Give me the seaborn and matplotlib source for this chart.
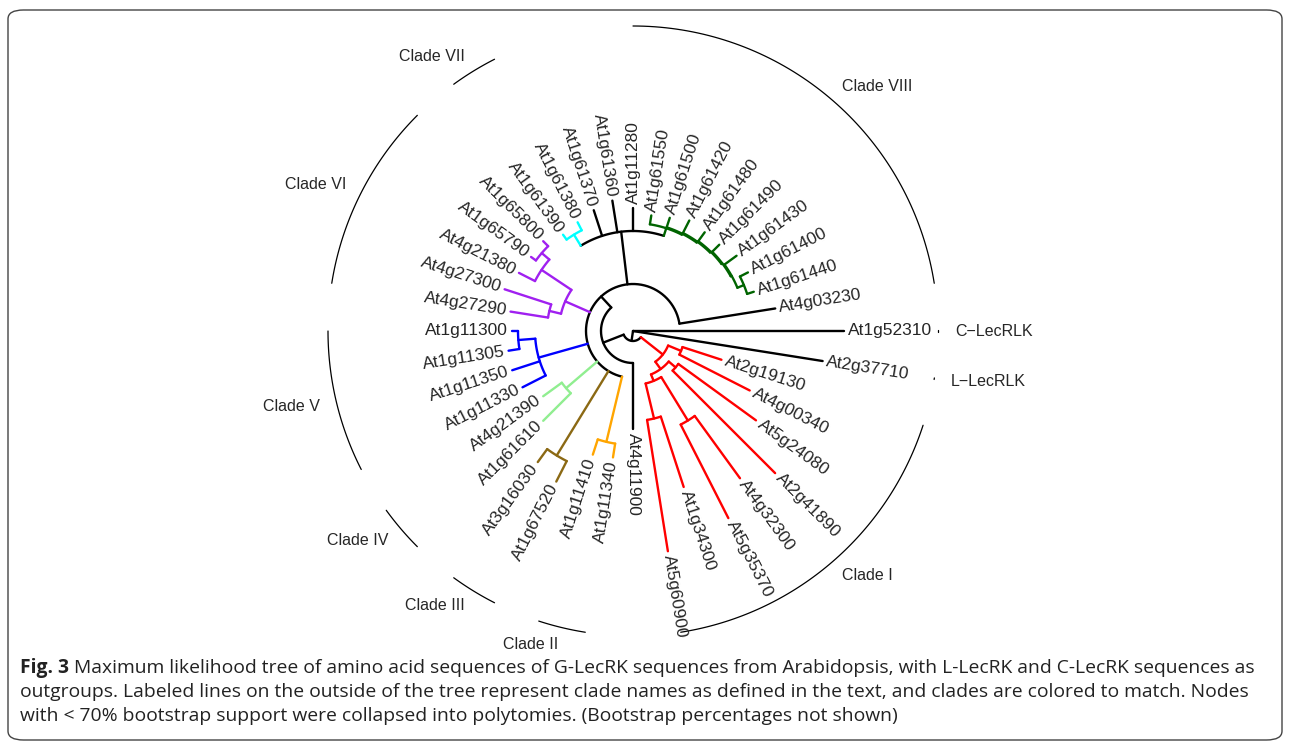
import numpy as np
import pandas as pd
import matplotlib
matplotlib.use('Agg')
import matplotlib.pyplot as plt
import seaborn as sns
from matplotlib.patches import FancyBboxPatch

sns.set_style('white')
plt.rcParams['font.family'] = ['Liberation Sans', 'DejaVu Sans']

# Arbol (Newick) con longitudes de rama
tree_newick = ("(At1g52310:2.11,At2g37710:1.92,"
    "(((At2g19130:0.41,At4g00340:0.79)R2:0.14,"
    "((At5g24080:0.96,At2g41890:1.45)R4:0.09,"
    "((At4g32300:0.77,At5g35370:1.05)R7:0.51,(At1g34300:0.74,At5g60900:1.33)R6:0.36)R5:0.07)Rx:0.09)R1:0.28,"
    "(At4g11900:0.66,"
    "((At1g11340:0.14,At1g11410:0.16)OR:0.67,"
    "(At1g67520:0.23,At3g16030:0.16)OL:0.99,"
    "(At1g61610:0.39,At4g21390:0.23)LG:0.41,"
    "(At1g11330:0.26,At1g11350:0.29,(At1g11305:0.11,At1g11300:0.06)B2:0.17)B1:0.51,"
    "((At4g27290:0.38,At4g27300:0.49)P3:0.12,(At4g21380:0.18,(At1g65790:0.06,At1g65800:0.07)P4:0.10)P2:0.36)P1:0.27,"
    "((At1g61390:0.06,At1g61380:0.09)CY:0.13,At1g61370:0.27,At1g61360:0.32,At1g11280:0.23,"
    "(At1g61550:0.09,(At1g61500:0.10,(At1g61420:0.14,(At1g61480:0.11,(At1g61490:0.10,"
    "(At1g61430:0.15,(At1g61400:0.09,At1g61440:0.07)G3:0.07)G2:0.01)Gd:0.01)Gc:0.01)Gb:0.01)Ga:0.01)G:0.08)D:0.53,"
    "At4g03230:0.97)C:0.15)B:0.22)A:0.10)root;")

# Colores de cada clado (nodo raiz del clado)
clade_nodes = ['R1', 'OR', 'OL', 'LG', 'B1', 'P1', 'CY', 'G']
clade_cols = ['#FF0000', '#FFA500', '#8B6914', '#90EE90', '#0000FF', '#A020F0', '#00FFFF', '#006400']

# Etiquetas de clados: nombre, primera y ultima hoja
clade_names = ['C\u2212LecRLK', 'L\u2212LecRLK', 'Clade I', 'Clade II', 'Clade III',
               'Clade IV', 'Clade V', 'Clade VI', 'Clade VII', 'Clade VIII']
clade_first = ['At1g52310', 'At2g37710', 'At2g19130', 'At1g11340', 'At1g67520',
               'At1g61610', 'At1g11330', 'At4g27290', 'At1g61390', 'At1g11280']
clade_last = ['At1g52310', 'At2g37710', 'At5g60900', 'At1g11410', 'At3g16030',
              'At4g21390', 'At1g11300', 'At1g65800', 'At1g61380', 'At4g03230']

caption1 = ("Maximum likelihood tree of amino acid sequences of G-LecRK sequences from "
            "Arabidopsis, with L-LecRK and C-LecRK sequences as")
caption2 = ("outgroups. Labeled lines on the outside of the tree represent clade names as "
            "defined in the text, and clades are colored to match. Nodes")
caption3 = ("with < 70% bootstrap support were collapsed into polytomies. "
            "(Bootstrap percentages not shown)")


def parse(s):
    pos = 0

    def node():
        nonlocal pos
        kids = []
        if s[pos] == '(':
            pos += 1
            kids.append(node())
            while s[pos] == ',':
                pos += 1
                kids.append(node())
            pos += 1
        st = pos
        while s[pos] not in ':,();':
            pos += 1
        name = s[st:pos]
        bl = 0.0
        if s[pos] == ':':
            pos += 1
            st = pos
            while s[pos] not in ',();':
                pos += 1
            bl = float(s[st:pos])
        return {'name': name, 'bl': bl, 'kids': kids}
    return node()


def layout(n, depth, cnt, col, step=9.0):
    n['r'] = depth + n['bl']
    n['col'] = dict(zip(clade_nodes, clade_cols)).get(n['name'], col)
    if not n['kids']:
        n['a'] = -step * cnt[0]
        cnt[0] += 1
    else:
        for k in n['kids']:
            layout(k, n['r'], cnt, n['col'])
        n['a'] = (n['kids'][0]['a'] + n['kids'][-1]['a']) / 2


def segmentos(n, parent_r, rows, leaves):
    t = np.radians(n['a'])
    if parent_r is not None:
        for rr in (parent_r, n['r']):
            rows.append((('rad', n['name']), rr * np.cos(t), rr * np.sin(t), n['col']))
    if n['kids']:
        a0, a1 = n['kids'][0]['a'], n['kids'][-1]['a']
        aa = np.radians(np.linspace(a0, a1, max(2, int(abs(a1 - a0)) * 2)))
        for v in aa:
            rows.append((('arc', n['name']), n['r'] * np.cos(v), n['r'] * np.sin(v), n['col']))
        for k in n['kids']:
            segmentos(k, n['r'], rows, leaves)
    else:
        leaves[n['name']] = n


tree = parse(tree_newick)
layout(tree, 0.0, [0], 'black')
rows = []
leaves = {}
segmentos(tree, None, rows, leaves)
df = pd.DataFrame(rows, columns=['seg', 'x', 'y', 'col'])
df['seg'] = df['seg'].astype(str)

fig = plt.figure(figsize=(12.9, 7.45), dpi=100)
ax = fig.add_axes([0, 0, 1, 1])
ax.set_xlim(-6.33, 6.57)
ax.set_ylim(-4.14, 3.31)
ax.axis('off')

pal = {c: c for c in df['col'].unique()}
sns.lineplot(data=df, x='x', y='y', units='seg', hue='col', palette=pal,
             estimator=None, sort=False, legend=False, lw=1.7, ax=ax)

# etiquetas de hojas
for name, n in leaves.items():
    t = np.radians(n['a'])
    rr = n['r'] + 0.04
    if np.cos(t) >= -1e-9:
        rot, ha = n['a'], 'left'
    else:
        rot, ha = n['a'] + 180, 'right'
    ax.text(rr * np.cos(t), rr * np.sin(t), name, rotation=rot, rotation_mode='anchor',
            ha=ha, va='center', fontsize=12.5)

# arcos y nombres de clados
R_arc, R_lab = 3.05, 3.22
arc_rows = []
for nm, f, l in zip(clade_names, clade_first, clade_last):
    a0, a1 = leaves[f]['a'], leaves[l]['a']
    if a0 == a1:
        a0, a1 = a0 + 0.15, a1 - 0.15
    aa = np.radians(np.linspace(a0, a1, 80))
    for v in aa:
        arc_rows.append((nm, R_arc * np.cos(v), R_arc * np.sin(v)))
    am = np.radians((a0 + a1) / 2)
    ha = 'left' if np.cos(am) >= 0 else 'right'
    ax.text(R_lab * np.cos(am), R_lab * np.sin(am), nm, ha=ha, va='center', fontsize=11.5)
adf = pd.DataFrame(arc_rows, columns=['clade', 'x', 'y'])
sns.lineplot(data=adf, x='x', y='y', units='clade', color='black', estimator=None,
             sort=False, legend=False, lw=0.9, ax=ax)

# marco y pie de figura
fig.patches.append(FancyBboxPatch((8 / 1290, 5 / 745), 1274 / 1290, 730 / 745,
                                  boxstyle='round,pad=0,rounding_size=0.012',
                                  transform=fig.transFigure, fill=False,
                                  ec='#444444', lw=1.0))
cap_font = ['Open Sans', 'DejaVu Sans']
cap_size = 13.9
b = fig.text(20 / 1290, 1 - 668 / 745, 'Fig. 3', fontsize=cap_size, fontweight='bold',
             family=cap_font, va='center', color='#222222')
fig.canvas.draw()
bb = b.get_window_extent()
fig.text((bb.x1 + 5) / 1290, 1 - 668 / 745, caption1, fontsize=cap_size, family=cap_font,
         va='center', color='#222222')
fig.text(20 / 1290, 1 - 692 / 745, caption2, fontsize=cap_size, family=cap_font,
         va='center', color='#222222')
fig.text(20 / 1290, 1 - 716 / 745, caption3, fontsize=cap_size, family=cap_font,
         va='center', color='#222222')

fig.savefig('out.png', dpi=100)
